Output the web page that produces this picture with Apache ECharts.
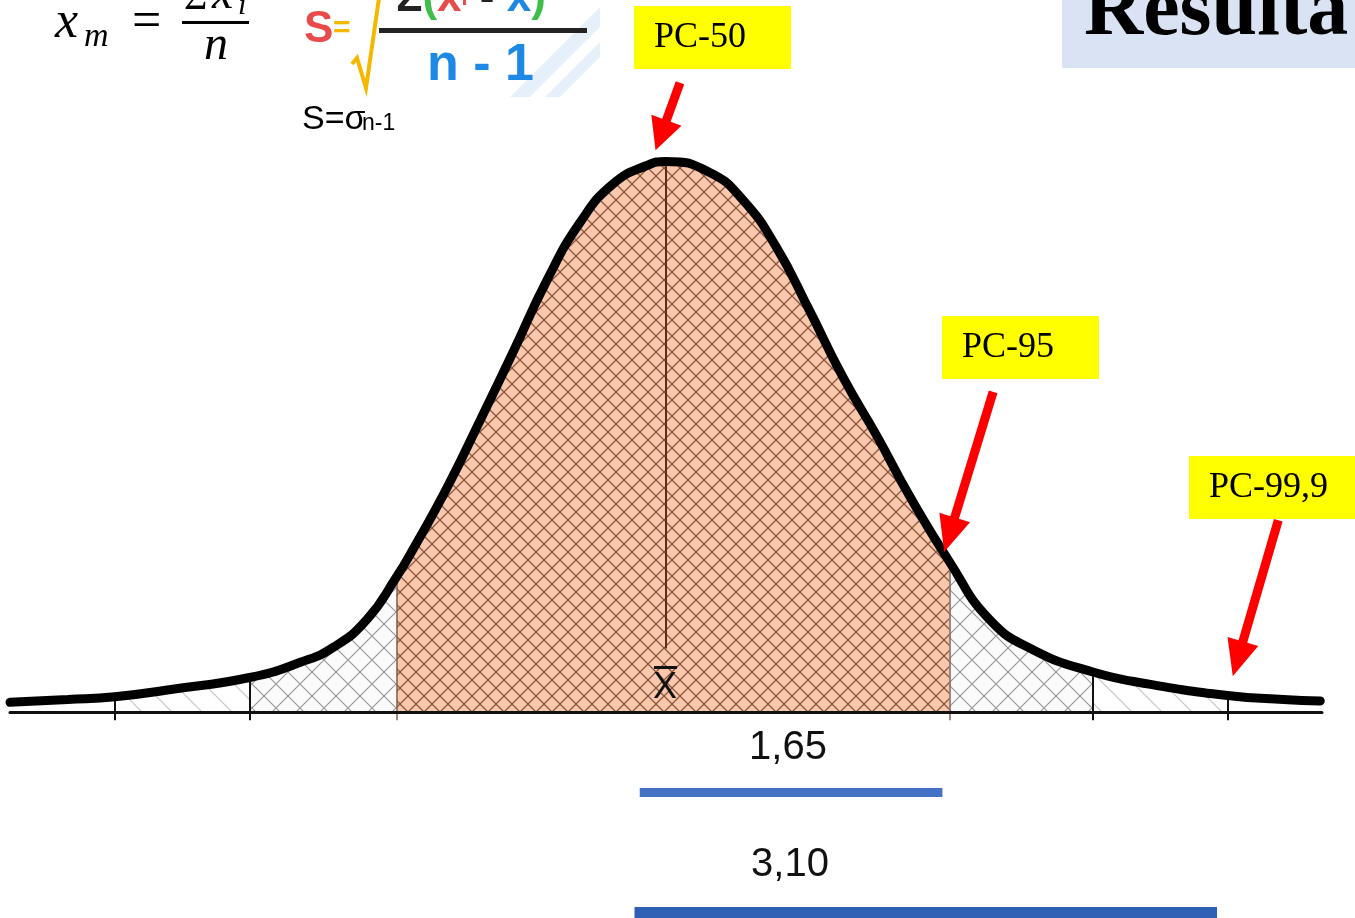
<!DOCTYPE html>
<html>
<head>
<meta charset="utf-8">
<title>Distribución normal - PC-50 / PC-95 / PC-99,9</title>
<script src="https://cdn.jsdelivr.net/npm/echarts@6/dist/echarts.min.js"></script>
<style>
  html, body { margin: 0; padding: 0; background: #fff; }
  #main { width: 1355px; height: 918px; }
</style>
</head>
<body>
<div id="main"></div>
<script>
// curve: x in sigma units around the mean, y as density
const curveX = [-3.75, -3.42, -3.15, -2.85, -2.38, -2.09, -1.90, -1.71, -1.54, -1.45, -1.25, -1.06, -0.87, -0.68, -0.49, -0.30, -0.11, 0,
  0.25, 0.44, 0.63, 0.82, 1.01, 1.21, 1.39, 1.62, 1.85, 2.10, 2.44, 2.77, 3.21, 3.53, 3.74]
const curveY = [0.007, 0.009, 0.011, 0.016, 0.025, 0.036, 0.047, 0.067, 0.098, 0.117, 0.163, 0.212, 0.262, 0.313, 0.355, 0.383, 0.396, 0.399,
  0.391, 0.371, 0.337, 0.291, 0.243, 0.199, 0.157, 0.109, 0.067, 0.045, 0.029, 0.020, 0.012, 0.009, 0.008]
const bounds = [-3.15, -2.38, -1.54, 1.62, 2.44, 3.21]
const meanX = 0
const pcLabels = ['PC-50', 'PC-95', 'PC-99,9']
const arrowFrom = [[0.08, 0.456], [1.87, 0.232], [3.50, 0.139]]
const arrowTo = [[-0.06, 0.407], [1.59, 0.116], [3.24, 0.026]]
const spanLabels = ['1,65', '3,10']
const spanBars = [[-0.15, 1.58], [-0.18, 3.15]]

function hatch (size, bg, color, width, both) {
  const c = document.createElement('canvas')
  c.width = size
  c.height = size
  const ctx = c.getContext('2d')
  if (bg) {
    ctx.fillStyle = bg
    ctx.fillRect(0, 0, size, size)
  }
  ctx.strokeStyle = color
  ctx.lineWidth = width
  ctx.beginPath()
  for (const o of [-size, 0, size]) {
    ctx.moveTo(o - 1, -1)
    ctx.lineTo(o + size + 1, size + 1)
    if (both) {
      ctx.moveTo(o - 1, size + 1)
      ctx.lineTo(o + size + 1, -1)
    }
  }
  ctx.stroke()
  return c
}

const orangeFill = { image: hatch(16, '#F8C7AC', 'rgba(105,50,25,0.75)', 1.3, true), repeat: 'repeat' }
const crossFill = { image: hatch(24, '#FAFAFA', 'rgba(60,60,60,0.5)', 1.2, true), repeat: 'repeat' }
const singleFill = { image: hatch(30, null, 'rgba(110,110,110,0.4)', 1.2, false), repeat: 'repeat' }

function region (a, b, fill) {
  const pts = []
  curveX.forEach((x, i) => {
    if (x >= a && x <= b) pts.push([x, curveY[i]])
  })
  return {
    type: 'line',
    data: pts,
    smooth: 0.5,
    symbol: 'none',
    silent: true,
    lineStyle: { width: 0 },
    areaStyle: { color: fill, opacity: 1 },
    z: 1
  }
}

function curveAt (x) {
  return curveY[curveX.indexOf(x)]
}

const chart = echarts.init(document.getElementById('main'))

const boundLines = bounds.map((b, i) => {
  const inner = i === 2 || i === 3
  return [
    { coord: [b, -0.006], lineStyle: { color: inner ? '#7d6255' : '#111', width: inner ? 1.5 : 2, type: 'solid' } },
    { coord: [b, curveAt(b)] }
  ]
})
boundLines.push([
  { coord: [meanX, 0.046], lineStyle: { color: '#5a2e18', width: 2, type: 'solid' } },
  { coord: [meanX, curveAt(meanX)] }
])

chart.setOption({
  animation: false,
  backgroundColor: '#fff',
  grid: { left: 10, right: 33, top: 160, bottom: 197.7 },
  xAxis: {
    type: 'value',
    min: -3.75,
    max: 3.75,
    z: 6,
    axisLine: { onZero: true, lineStyle: { color: '#111', width: 3 } },
    axisTick: { show: false },
    axisLabel: { show: false },
    splitLine: { show: false }
  },
  yAxis: { type: 'value', min: -0.006, max: 0.4, show: false },
  series: [
    region(bounds[0], bounds[1], singleFill),
    region(bounds[1], bounds[2], crossFill),
    region(bounds[2], bounds[3], orangeFill),
    region(bounds[3], bounds[4], crossFill),
    region(bounds[4], bounds[5], singleFill),
    {
      type: 'line',
      data: curveX.map((x, i) => [x, curveY[i]]),
      smooth: 0.5,
      symbol: 'none',
      clip: false,
      silent: true,
      lineStyle: { color: '#000', width: 9, cap: 'round' },
      z: 5,
      markLine: {
        silent: true,
        z: 3,
        symbol: ['none', 'none'],
        label: { show: false },
        lineStyle: { type: 'solid' },
        data: boundLines
      }
    }
  ]
})

const toPx = p => chart.convertToPixel({ gridIndex: 0 }, p)

function arrowPoints (a, b, half, headLen, headHalf) {
  const dx = b[0] - a[0]
  const dy = b[1] - a[1]
  const len = Math.hypot(dx, dy)
  const ux = dx / len
  const uy = dy / len
  const nx = -uy
  const ny = ux
  const bx = b[0] - ux * headLen
  const by = b[1] - uy * headLen
  return [
    [a[0] + nx * half, a[1] + ny * half],
    [bx + nx * half, by + ny * half],
    [bx + nx * headHalf, by + ny * headHalf],
    b,
    [bx - nx * headHalf, by - ny * headHalf],
    [bx - nx * half, by - ny * half],
    [a[0] - nx * half, a[1] - ny * half]
  ]
}

function txt (x, y, text, font, fill, extra) {
  return {
    type: 'text',
    x: x,
    y: y,
    silent: true,
    style: Object.assign({
      text: text,
      font: font,
      fill: fill || '#000',
      textAlign: 'left',
      align: 'left',
      textVerticalAlign: 'middle',
      verticalAlign: 'middle'
    }, extra || {})
  }
}

const base = toPx([meanX, 0])
const g = []

// title box cut by the top edge
g.push({ type: 'rect', shape: { x: 1062, y: 0, width: 293, height: 68 }, style: { fill: '#DAE3F3' } })
g.push(txt(1084, 13, 'Resulta', 'bold 82px "Liberation Serif"'))

// x_m = sum x_i / n
g.push(txt(55, 23, 'x', 'italic 52px "Liberation Serif"'))
g.push(txt(84, 37, 'm', 'italic 34px "Liberation Serif"'))
g.push(txt(132, 23, '=', '52px "Liberation Serif"'))
g.push({ type: 'rect', shape: { x: 182, y: 21, width: 67, height: 3 }, style: { fill: '#000' } })
g.push(txt(184, -2, 'Σ', '40px "Liberation Serif"'))
g.push(txt(212, -5, 'x', 'italic 48px "Liberation Serif"'))
g.push(txt(238, 6, 'i', 'italic 30px "Liberation Serif"'))
g.push(txt(204, 46, 'n', 'italic 48px "Liberation Serif"'))

// S = sqrt( sum (xi - x)^2 / (n - 1) )
g.push({ type: 'polygon', shape: { points: [[510, 97], [530, 97], [600, 27], [600, 7]] }, style: { fill: 'rgba(200,222,243,0.45)' } })
g.push({ type: 'polygon', shape: { points: [[545, 97], [560, 97], [600, 57], [600, 42]] }, style: { fill: 'rgba(200,222,243,0.45)' } })
g.push(txt(304, 30, 'S', 'bold 44px "Liberation Sans"', '#E94B4B'))
g.push(txt(333, 29, '=', 'bold 30px "Liberation Sans"', '#F5B800'))
g.push({ type: 'polyline', shape: { points: [[352, 64], [357, 58], [366, 88], [379, -2]] }, style: { stroke: '#F5B800', lineWidth: 4, fill: 'none' } })
g.push({ type: 'rect', shape: { x: 379, y: 28, width: 208, height: 5 }, style: { fill: '#222' } })
g.push({
  type: 'text',
  x: 396,
  y: -1,
  silent: true,
  style: {
    text: '{k|Σ}{g|(}{r|x}{ri|i}{k| - }{b|x}{g|)}',
    font: 'bold 44px "Liberation Sans"',
    verticalAlign: 'middle',
    textVerticalAlign: 'middle',
    rich: {
      k: { fill: '#222', font: 'bold 44px "Liberation Sans"' },
      g: { fill: '#3DBE4B', font: 'bold 44px "Liberation Sans"' },
      r: { fill: '#E94B4B', font: 'bold 44px "Liberation Sans"' },
      ri: { fill: '#E94B4B', font: 'bold 22px "Liberation Sans"' },
      b: { fill: '#1E88E5', font: 'bold 44px "Liberation Sans"' }
    }
  }
})
g.push(txt(427, 66, 'n - 1', 'bold 52px "Liberation Sans"', '#1E88E5'))

g.push(txt(302, 120, 'S=σ', '34px "Liberation Sans"'))
g.push(txt(362, 124, 'n-1', '23px "Liberation Sans"'))

// yellow labels
const boxes = [[634, 6, 157], [942, 316, 157], [1189, 456, 166]]
pcLabels.forEach((name, i) => {
  const b = boxes[i]
  g.push({ type: 'rect', shape: { x: b[0], y: b[1], width: b[2], height: 63 }, style: { fill: '#FFFF00' } })
  g.push(txt(b[0] + 20, b[1] + 32, name, '36px "Liberation Serif"', '#000', {
    textShadowColor: '#8a8a10', textShadowOffsetX: 1.5, textShadowOffsetY: 1.5, textShadowBlur: 0
  }))
})

// red arrows
arrowFrom.forEach((from, i) => {
  const a = toPx(from)
  const b = toPx(arrowTo[i])
  const head = i === 0 ? 32 : 36
  g.push({ type: 'polygon', shape: { points: arrowPoints(a, b, 4.5, head, 16) }, style: { fill: '#FF0000' } })
})

// mean label
g.push(txt(base[0] - 1, base[1] - 24, 'X', '36px "Liberation Sans"', '#111', { textAlign: 'center', align: 'center' }))
g.push({ type: 'rect', shape: { x: base[0] - 12, y: base[1] - 46, width: 23, height: 3 }, style: { fill: '#111' } })

// distances under the axis
const spanTextY = [36, 153]
const spanBarY = [76, 195]
const spanColors = ['#4472C4', '#2E60B5']
spanLabels.forEach((s, i) => {
  const p0 = toPx([spanBars[i][0], 0])
  const p1 = toPx([spanBars[i][1], 0])
  g.push(txt(788 + i * 2, base[1] + spanTextY[i], s, '40px "Liberation Sans"', '#111', { textAlign: 'center', align: 'center' }))
  g.push({ type: 'rect', shape: { x: p0[0], y: base[1] + spanBarY[i], width: p1[0] - p0[0], height: i === 0 ? 9 : 12 }, style: { fill: spanColors[i] } })
})

g.forEach(el => { el.z = 100 })

chart.setOption({ graphic: { elements: g } })
</script>
</body>
</html>
